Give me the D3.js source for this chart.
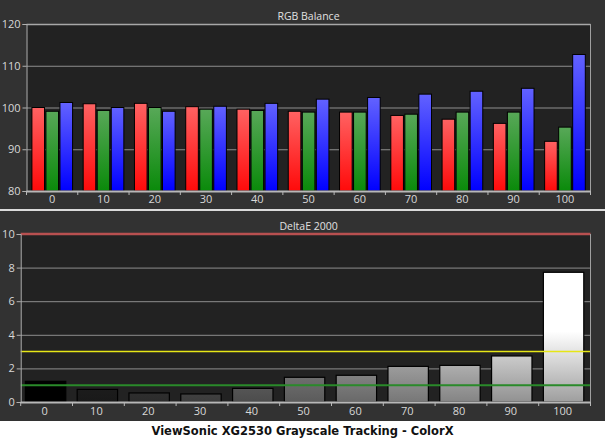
<!DOCTYPE html>
<html><head><meta charset="utf-8">
<script src="https://cdn.jsdelivr.net/npm/d3@7"></script>
<style>
html,body{margin:0;padding:0;background:#fff;}
text{font-family:"Open Sans",sans-serif;}
</style></head>
<body>
<svg id="c" width="605" height="441"></svg>
<script>
const categories = ["0","10","20","30","40","50","60","70","80","90","100"];
const redValues   = [100.0,100.9,101.0,100.2, 99.6, 99.1, 98.9, 98.1, 97.2, 96.2, 91.9];
const greenValues = [ 99.1, 99.3,100.0, 99.6, 99.3, 98.9, 98.9, 98.4, 98.9, 98.9, 95.3];
const blueValues  = [101.2,100.0, 99.1,100.3,101.0,102.0,102.4,103.2,103.9,104.6,112.7];
const deltaE      = [1.23, 0.75, 0.54, 0.48, 0.81, 1.47, 1.59, 2.12, 2.18, 2.74, 7.72];
const rgbTicks = [80, 90, 100, 110, 120];
const deTicks  = [0, 2, 4, 6, 8, 10];
const deRefLines = [10, 3, 1];
const seriesNames = ["R","G","B"];
const topTitle = "RGB Balance";
const bottomTitle = "DeltaE 2000";
const chartTitle = "ViewSonic XG2530 Grayscale Tracking - ColorX";

const svg = d3.select("#c");
const defs = svg.append("defs");
const W = 605;

// panels
svg.append("rect").attr("x",0).attr("y",0).attr("width",W).attr("height",209).attr("fill","#323232");
svg.append("rect").attr("x",0).attr("y",211).attr("width",W).attr("height",210).attr("fill","#323232");
svg.append("line").attr("x1",0).attr("x2",W).attr("y1",210).attr("y2",210).attr("stroke","#cfcfcf").attr("stroke-width",1.5);

const tickCol = "#d8d8d8";
const gridCol = "#8e8e8e";

// ---------- TOP: RGB balance ----------
const t = {l:26.5, r:590.5, t:24, b:191};
const xT = d3.scaleBand().domain(categories).range([t.l,t.r]).padding(0);
const xS = d3.scaleBand().domain(seriesNames).range([5.4, xT.bandwidth()-5.2]).paddingInner(0.1);
const yT = d3.scaleLinear().domain([80,120]).range([t.b,t.t]);

svg.append("rect").attr("x",t.l).attr("y",t.t).attr("width",t.r-t.l).attr("height",t.b-t.t).attr("fill","#222");

svg.append("g").selectAll("line").data(rgbTicks.filter(v=>v>80)).join("line")
  .attr("x1",t.l).attr("x2",t.r).attr("y1",d=>yT(d)+0.5).attr("y2",d=>yT(d)+0.5)
  .attr("stroke",d=>d===120?"#a8a8a8":gridCol).attr("stroke-width",d=>d===120?1.6:1);

const grads = [["#ff6262","#ff0a0a"],["#58a858","#0a8a0a"],["#6262ff","#0000ff"]];
grads.forEach((g,i)=>{
  const lg = defs.append("linearGradient").attr("id","g"+i).attr("x1",0).attr("y1",0).attr("x2",0).attr("y2",1);
  lg.append("stop").attr("offset","0%").attr("stop-color",g[0]);
  lg.append("stop").attr("offset","100%").attr("stop-color",g[1]);
});

const rgbRows = categories.map((c,i)=>({c, vals:[redValues[i],greenValues[i],blueValues[i]]}));
const grp = svg.append("g").selectAll("g").data(rgbRows).join("g")
  .attr("transform",d=>`translate(${xT(d.c)},0)`);
grp.selectAll("rect").data(d=>d.vals.map((v,k)=>({k,v}))).join("rect")
  .attr("x",d=>xS(seriesNames[d.k])).attr("width",xS.bandwidth())
  .attr("y",d=>yT(d.v)).attr("height",d=>yT(80)-yT(d.v))
  .attr("fill",d=>`url(#g${d.k})`).attr("stroke","#000").attr("stroke-width",1);

// axes top
const axL = d3.axisLeft(yT).tickValues(rgbTicks).tickSize(4).tickPadding(2).tickFormat(d3.format("d"));
const gL = svg.append("g").attr("transform",`translate(${t.l},0)`).call(axL);
gL.select(".domain").attr("stroke","#b0b0b0");
gL.selectAll(".tick line").attr("stroke","#b0b0b0");
gL.selectAll("text").attr("fill",tickCol).attr("font-size","11px");
svg.append("line").attr("x1",t.r).attr("x2",t.r).attr("y1",t.t).attr("y2",t.b).attr("stroke","#a0a0a0");

const bnds = categories.map(c=>xT(c)).concat([t.r]);
svg.append("line").attr("x1",t.l).attr("x2",t.r).attr("y1",t.b+0.5).attr("y2",t.b+0.5).attr("stroke","#b8b8b8").attr("stroke-width",2);
svg.append("g").selectAll("line").data(bnds).join("line")
  .attr("x1",d=>d).attr("x2",d=>d).attr("y1",t.b).attr("y2",t.b+4).attr("stroke","#b8b8b8");
svg.append("g").selectAll("text").data(categories).join("text")
  .attr("x",d=>xT(d)+xT.bandwidth()/2).attr("y",203).attr("text-anchor","middle")
  .attr("fill",tickCol).attr("font-size","11px").text(d=>d);
svg.append("text").attr("x",(t.l+t.r)/2).attr("y",19.5).attr("text-anchor","middle")
  .attr("fill","#e0e0e0").attr("font-size","10.5px").text(topTitle);

// ---------- BOTTOM: DeltaE ----------
const b = {l:20.7, r:590.5, t:234, b:402};
const xB = d3.scaleBand().domain(categories).range([b.l,b.r]).paddingInner(0.22).paddingOuter(0.11).align(0.41);
const xBb = d3.scaleBand().domain(categories).range([b.l,b.r]).padding(0);
const yB = d3.scaleLinear().domain([0,10]).range([b.b,b.t]);

svg.append("rect").attr("x",b.l).attr("y",b.t).attr("width",b.r-b.l).attr("height",b.b-b.t).attr("fill","#222");
svg.append("g").selectAll("line").data(deTicks.filter(v=>v>0&&v<10)).join("line")
  .attr("x1",b.l).attr("x2",b.r).attr("y1",d=>yB(d)+0.5).attr("y2",d=>yB(d)+0.5)
  .attr("stroke",gridCol);

const level = c => Math.round(255*Math.pow(+c/100,0.8));
categories.forEach((c,i)=>{
  const L = level(c);
  const top = d3.rgb(L,L,L), bot = d3.rgb(L*0.62,L*0.62,L*0.62);
  const lg = defs.append("linearGradient").attr("id","d"+i).attr("gradientUnits","userSpaceOnUse")
    .attr("x1",0).attr("x2",0).attr("y1",yB(4.2)).attr("y2",yB(0));
  lg.append("stop").attr("offset","0%").attr("stop-color",top.formatHex());
  lg.append("stop").attr("offset","100%").attr("stop-color",bot.formatHex());
});
svg.append("g").selectAll("rect").data(deltaE).join("rect")
  .attr("x",(d,i)=>xB(categories[i])).attr("width",xB.bandwidth())
  .attr("y",d=>yB(d)).attr("height",d=>yB(0)-yB(d))
  .attr("fill",(d,i)=>`url(#d${i})`).attr("stroke","#000").attr("stroke-width",1.2);

const refCol = {10:"#b85050",3:"#e6e617",1:"#2a8a2a"};
const refW = {10:2.5,3:1.5,1:2};
svg.append("g").selectAll("line").data(deRefLines).join("line")
  .attr("x1",b.l).attr("x2",b.r).attr("y1",d=>yB(d)).attr("y2",d=>yB(d))
  .attr("stroke",d=>refCol[d]).attr("stroke-width",d=>refW[d]);

const axLB = d3.axisLeft(yB).tickValues(deTicks).tickSize(4).tickPadding(2).tickFormat(d3.format("d"));
const gLB = svg.append("g").attr("transform",`translate(${b.l},0)`).call(axLB);
gLB.select(".domain").attr("stroke","#b0b0b0");
gLB.selectAll(".tick line").attr("stroke","#b0b0b0");
gLB.selectAll("text").attr("fill",tickCol).attr("font-size","11px");
svg.append("line").attr("x1",b.r).attr("x2",b.r).attr("y1",b.t).attr("y2",b.b).attr("stroke","#a0a0a0");

const bndsB = categories.map(c=>xBb(c)).concat([b.r]);
svg.append("line").attr("x1",b.l).attr("x2",b.r).attr("y1",b.b+0.5).attr("y2",b.b+0.5).attr("stroke","#b8b8b8").attr("stroke-width",2);
svg.append("g").selectAll("line").data(bndsB).join("line")
  .attr("x1",d=>d).attr("x2",d=>d).attr("y1",b.b).attr("y2",b.b+4).attr("stroke","#b8b8b8");
svg.append("g").selectAll("text").data(categories).join("text")
  .attr("x",d=>xBb(d)+xBb.bandwidth()/2 - 2).attr("y",415).attr("text-anchor","middle")
  .attr("fill",tickCol).attr("font-size","11px").text(d=>d);
svg.append("text").attr("x",(b.l+b.r)/2+3).attr("y",229.5).attr("text-anchor","middle")
  .attr("fill","#e0e0e0").attr("font-size","10.5px").text(bottomTitle);

svg.append("text").attr("x",302.5).attr("y",435).attr("text-anchor","middle")
  .attr("fill","#111").attr("font-size","11.5px").attr("font-weight","bold")
  .style("font-family","'DejaVu Sans',sans-serif").text(chartTitle);
</script>
</body></html>
